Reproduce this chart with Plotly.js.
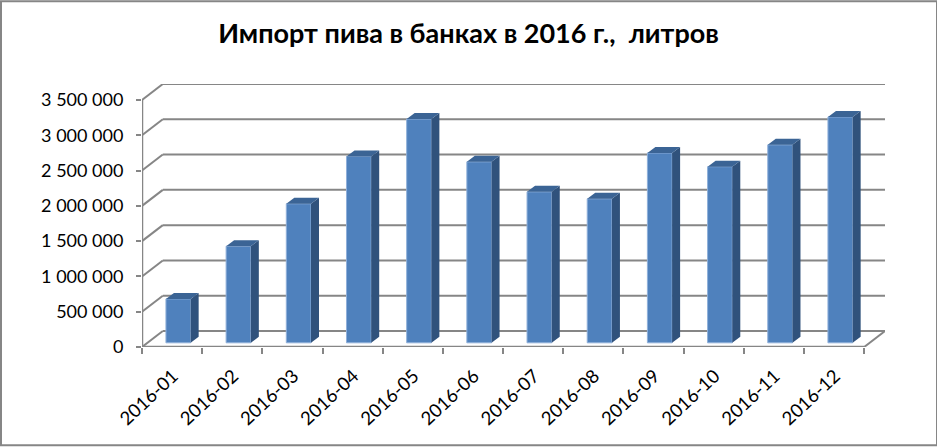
<!DOCTYPE html>
<html><head><meta charset="utf-8">
<script src="https://cdn.plot.ly/plotly-3.0.1.min.js"></script>
<style>html,body{margin:0;padding:0;background:#fff}#c{width:937px;height:447px}</style>
</head><body><div id="c"></div>
<script>
const months = ["2016-01","2016-02","2016-03","2016-04","2016-05","2016-06","2016-07","2016-08","2016-09","2016-10","2016-11","2016-12"];
const litres = [622000,1369000,1970000,2640000,3171000,2564000,2139000,2040000,2690000,2495000,2805000,3200000];
const yTicks = [0,500000,1000000,1500000,2000000,2500000,3000000,3500000];
const yTickText = ["0","500 000","1 000 000","1 500 000","2 000 000","2 500 000","3 000 000","3 500 000"];

// pseudo-3D projection in data units
const pxX = 722/12, pxY = 500000/35.36;
const wallDX = 20.8/pxX, wallDY = 16*pxY;
const barW = 24.7/pxX, barOff = 6.2/pxX, barBase = 4.2*pxY;
const sideDX = 8/pxX, sideDY = 6*pxY;
const labelShift = 1/pxX;
const GRID = "#868686";

const shapes = [];
const seg = (x0,y0,x1,y1,w)=>shapes.push({type:"line",layer:"below",xref:"x",yref:"y",x0,y0,x1,y1,line:{color:GRID,width:w||2}});
yTicks.forEach(v=>{
  seg(-0.5,v,-0.5+wallDX,v+wallDY);
  seg(-0.5+wallDX,v+wallDY,11.5+wallDX,v+wallDY);
});
seg(-0.5,0,-0.5,yTicks[7],2.5);
seg(-0.5,0,11.5,0,2.5);
seg(11.5,0,11.5+wallDX,wallDY);
shapes.push({type:"rect",xref:"paper",yref:"paper",layer:"below",
  x0:-141/743,x1:(936-141)/743,y0:-(447-347.5-1)/263.5,y1:(347.5-1)/263.5,
  line:{color:"#868686",width:2}});

const front = {type:"bar",x:months.map((_,i)=>i),y:litres,base:months.map(()=>barBase),
  offset:barOff-barW/2,width:barW,
  marker:{color:"#4F81BD",line:{color:"#8FB0DA",width:1}},hoverinfo:"skip"};
const sideX=[],sideY=[],topX=[],topY=[];
litres.forEach((v,i)=>{
  const l=i+barOff-barW/2,r=l+barW,t=barBase+v;
  sideX.push(r,r+sideDX,r+sideDX,r,r,null);
  sideY.push(barBase,barBase+sideDY,t+sideDY,t,barBase,null);
  topX.push(l,l+sideDX,r+sideDX,r,l,null);
  topY.push(t,t+sideDY,t+sideDY,t,t,null);
});
const side={type:"scatter",mode:"lines",x:sideX,y:sideY,fill:"toself",fillcolor:"#30527C",line:{width:0,color:"#30527C"},hoverinfo:"skip"};
const top_={type:"scatter",mode:"lines",x:topX,y:topY,fill:"toself",fillcolor:"#3B6495",line:{width:0,color:"#3B6495"},hoverinfo:"skip"};

const FONT="Lato, sans-serif";
Plotly.newPlot("c",[front,side,top_],{
  width:937,height:447,showlegend:false,paper_bgcolor:"#fff",plot_bgcolor:"rgba(0,0,0,0)",
  margin:{l:142,r:937-884.8,t:84,b:99.5,pad:0},
  title:{text:"Импорт пива в банках в 2016 г.,  литров",font:{family:FONT,size:27,weight:700,color:"#000"},x:0.5,xanchor:"center",xref:"container",y:0.926,yanchor:"middle"},
  xaxis:{type:"linear",range:[-0.5,11.5+wallDX],tickmode:"array",tickvals:months.map((_,i)=>i+labelShift),ticktext:months,
    tickangle:-43,ticks:"outside",ticklen:10,tickwidth:0,tickcolor:"rgba(0,0,0,0)",showgrid:false,zeroline:false,showline:false,
    tickfont:{family:FONT,size:18.5,color:"#000"},
    minor:{ticks:"outside",ticklen:6,tickwidth:2,tickcolor:GRID,tick0:-0.5,dtick:1,showgrid:false}},
  yaxis:{range:[0,yTicks[7]+wallDY],tickmode:"array",tickvals:yTicks,ticktext:yTickText,
    ticks:"outside",ticklen:5,tickwidth:2,tickcolor:GRID,showgrid:false,zeroline:false,showline:false,
    ticklabelstandoff:9,tickfont:{family:FONT,size:18,color:"#000"}},
  shapes
},{displayModeBar:false,staticPlot:true});
</script></body></html>
